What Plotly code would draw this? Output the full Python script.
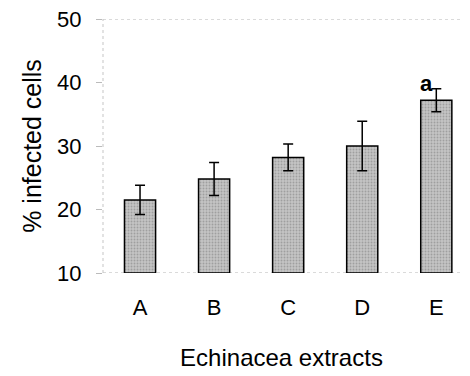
import plotly.graph_objects as go

categories = ["A", "B", "C", "D", "E"]
values = [21.5, 24.8, 28.2, 30.0, 37.2]
errors = [2.3, 2.6, 2.1, 3.9, 1.8]
y_ticks = [10, 20, 30, 40, 50]

FAM = "Liberation Sans, Arial, sans-serif"

fig = go.Figure()
fig.add_trace(go.Bar(
    x=categories, y=[v - 10 for v in values], base=10,
    width=0.42,
    marker=dict(color="#b3b3b3", line=dict(color="black", width=1.5),
                pattern=dict(shape=".", fgcolor="#7a7a7a", bgcolor="#c4c4c4",
                             size=3, solidity=0.3)),
    error_y=dict(type="data", array=errors, color="black", thickness=1.5, width=5),
))

fig.add_annotation(x="E", y=values[4] + errors[4], text="<b>a</b>", showarrow=False,
                   xshift=-10, yshift=5, font=dict(size=22, color="black", family=FAM))

tick_font = dict(family=FAM, size=22, color="black")
fig.update_layout(
    width=470, height=376,
    margin=dict(l=103, r=10, t=19, b=103),
    paper_bgcolor="white", plot_bgcolor="white",
    font=tick_font,
    showlegend=False,
    xaxis=dict(range=[-0.5, 4.32], showgrid=False, showline=False,
               ticks="", ticklabelstandoff=19, automargin=False,
               title=dict(text="Echinacea extracts", standoff=30,
                          font=dict(family=FAM, size=24, color="black")),
               tickfont=tick_font),
    yaxis=dict(range=[10, 50], tickvals=y_ticks, showgrid=False, showline=False,
               ticks="outside", tickcolor="#bbbbbb",
               ticklen=6, tickfont=tick_font, zeroline=False, ticklabelstandoff=10,
               automargin=False,
               title=dict(text="% infected cells", standoff=8,
                          font=dict(family=FAM, size=25, color="black"))),
)
for yv in (10, 50):
    fig.add_shape(type="line", xref="paper", yref="y", x0=0, x1=1, y0=yv, y1=yv,
                  line=dict(color="#b5b5b5", width=1, dash="dot"), layer="below")
fig.add_shape(type="line", xref="paper", yref="paper", x0=0, x1=0, y0=0, y1=1,
              line=dict(color="#c5c5c5", width=1, dash="dot"), layer="below")

fig.write_html("out.html", config={"displayModeBar": False},
               post_script="document.body.style.margin='0';")
